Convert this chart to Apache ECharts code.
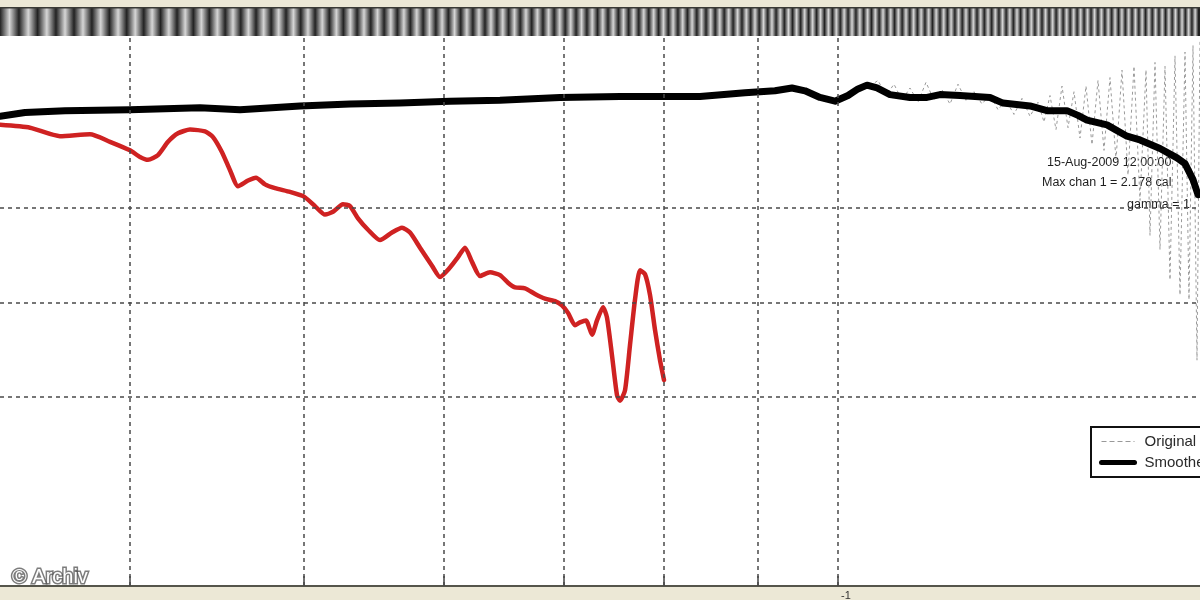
<!DOCTYPE html>
<html>
<head>
<meta charset="utf-8">
<title>Frequenzgang</title>
<script src="https://cdn.jsdelivr.net/npm/echarts@6/dist/echarts.min.js"></script>
<style>
html, body { margin: 0; padding: 0; background: #ece8d6; }
#chart { width: 1200px; height: 600px; }
</style>
</head>
<body>
<div id="chart"></div>
<script>
// x: frequency position, y: level (dB)
const smoothX = [0, 0.25, 0.65, 1.3, 2.0, 2.4, 3.0, 3.5, 4.0, 4.5, 5.0, 5.6, 6.2, 7.0, 7.45, 7.75, 7.92, 8.05, 8.2, 8.35, 8.48, 8.58, 8.67, 8.77, 8.9, 9.1, 9.27, 9.4, 9.6, 9.9, 10.03, 10.3, 10.47, 10.67, 10.78, 10.87, 11.07, 11.27, 11.4, 11.6, 11.77, 11.85, 11.93, 11.98];
const smoothY = [-0.3, 0.1, 0.3, 0.4, 0.6, 0.4, 0.8, 1.0, 1.1, 1.3, 1.4, 1.7, 1.8, 1.8, 2.2, 2.4, 2.7, 2.4, 1.7, 1.3, 1.9, 2.6, 3.0, 2.7, 2.0, 1.7, 1.7, 2.0, 1.9, 1.7, 1.1, 0.8, 0.3, 0.3, -0.2, -0.7, -1.2, -2.4, -2.8, -3.7, -4.7, -5.3, -7.0, -8.6];

const redX = [0, 0.3, 0.6, 0.9, 1.1, 1.3, 1.4, 1.48, 1.58, 1.68, 1.78, 1.9, 2.05, 2.13, 2.22, 2.3, 2.38, 2.48, 2.56, 2.65, 2.75, 2.9, 3.04, 3.15, 3.25, 3.33, 3.43, 3.5, 3.58, 3.68, 3.8, 3.92, 4.02, 4.1, 4.2, 4.32, 4.4, 4.5, 4.58, 4.65, 4.72, 4.8, 4.9, 5.0, 5.08, 5.15, 5.25, 5.35, 5.45, 5.56, 5.62, 5.68, 5.75, 5.8, 5.86, 5.92, 5.97, 6.03, 6.07, 6.12, 6.17, 6.2, 6.25, 6.3, 6.35, 6.4, 6.45, 6.5, 6.55, 6.6, 6.64];
const redY = [-1.2, -1.5, -2.4, -2.2, -3.0, -3.9, -4.6, -4.9, -4.4, -3.0, -2.1, -1.7, -1.9, -2.5, -4.1, -6.0, -7.7, -7.1, -6.8, -7.5, -7.9, -8.3, -8.8, -9.8, -10.7, -10.4, -9.6, -9.8, -11.1, -12.3, -13.4, -12.6, -12.1, -12.6, -14.2, -16.1, -17.3, -16.3, -15.2, -14.2, -15.7, -17.2, -16.8, -17.1, -17.9, -18.4, -18.5, -19.1, -19.6, -19.9, -20.3, -21.1, -22.4, -22.1, -21.9, -23.4, -21.9, -20.5, -21.6, -25.6, -29.8, -30.4, -29.3, -24.5, -19.7, -16.6, -17.0, -19.2, -22.9, -26.1, -28.2];

const origX = [8.7, 8.78, 8.86, 8.94, 9.02, 9.1, 9.18, 9.26, 9.34, 9.42, 9.5, 9.58, 9.66, 9.74, 9.82, 9.9, 9.98, 10.06, 10.14, 10.22, 10.3, 10.38, 10.44, 10.5, 10.56, 10.62, 10.68, 10.74, 10.8, 10.86, 10.92, 10.98, 11.04, 11.1, 11.16, 11.22, 11.28, 11.34, 11.4, 11.46, 11.5, 11.55, 11.6, 11.65, 11.7, 11.75, 11.8, 11.85, 11.89, 11.93, 11.97, 12.0];
const origY = [2.9, 3.5, 1.9, 3.1, 1.4, 2.7, 1.2, 3.3, 1.4, 2.5, 1.0, 3.1, 1.4, 2.3, 1.0, 2.0, 0.4, 1.4, -0.1, 1.6, -0.3, 1.2, -0.9, 1.9, -1.7, 2.9, -1.5, 2.3, -2.6, 2.9, -3.3, 3.5, -3.9, 3.8, -4.9, 4.6, -6.5, 5.0, -9.2, 4.6, -12.9, 5.4, -14.4, 5.0, -17.6, 6.1, -19.2, 6.5, -19.7, 7.2, -26.1, 7.8];

const gridX = [1.3, 3.04, 4.44, 5.64, 6.64, 7.58, 8.38];
const gridY = [-10, -20, -30];
const tickLabels = ['-1'];
const labelX = [8.38];

// test grating along the top: local stripe period in px
const stripeAt = [0, 400, 800, 1200];
const stripePeriod = [19, 13, 8, 6.5];

const zip = (xs, ys) => xs.map((x, i) => [x, ys[i]]);

function periodAt(x) {
    for (let i = 1; i < stripeAt.length; i++) {
        if (x <= stripeAt[i]) {
            const t = (x - stripeAt[i - 1]) / (stripeAt[i] - stripeAt[i - 1]);
            return stripePeriod[i - 1] + t * (stripePeriod[i] - stripePeriod[i - 1]);
        }
    }
    return stripePeriod[stripePeriod.length - 1];
}

const stripeStops = [];
let sx = 0;
let dark = true;
while (sx <= 1200) {
    stripeStops.push({ offset: sx / 1200, color: dark ? '#222' : '#d6d6d6' });
    sx += periodAt(sx) / 2;
    dark = !dark;
}

const chart = echarts.init(document.getElementById('chart'));

const textFont = 'Liberation Sans, Arial, sans-serif';

const options = {
    animation: false,
    backgroundColor: '#ece8d6',
    grid: {
        left: 0,
        right: 0,
        top: 36,
        bottom: 14,
        show: true,
        backgroundColor: '#fff',
        borderWidth: 0,
        outerBoundsMode: 'none'
    },
    xAxis: {
        type: 'value',
        min: 0,
        max: 12,
        axisLine: {
            show: true,
            onZero: false,
            lineStyle: { color: '#55554b', width: 2 }
        },
        axisTick: {
            show: true,
            inside: true,
            length: 10,
            customValues: gridX,
            lineStyle: { color: '#444', width: 1.5 }
        },
        axisLabel: {
            show: true,
            customValues: labelX,
            formatter: (v, i) => tickLabels[i] || tickLabels[0],
            align: 'left',
            margin: 4,
            padding: [0, 0, 0, 3],
            fontSize: 11,
            color: '#333',
            fontFamily: textFont
        },
        splitLine: { show: false }
    },
    yAxis: {
        type: 'value',
        min: -50,
        max: 8.2,
        show: false
    },
    legend: {
        data: [
            { name: 'Original data', lineStyle: { width: 1.2, type: [5, 3], color: '#999' } },
            { name: 'Smoothed data', lineStyle: { width: 5, color: '#000' } }
        ],
        orient: 'vertical',
        left: 1091,
        top: 427,
        padding: [7, 8, 7, 8],
        itemGap: 6,
        itemWidth: 33,
        itemHeight: 14,
        borderColor: '#111',
        borderWidth: 2,
        borderRadius: 0,
        backgroundColor: '#fff',
        selectedMode: false,
        itemStyle: { opacity: 0 },
        textStyle: {
            fontFamily: textFont,
            fontSize: 15,
            color: '#2a2a2a',
            padding: [0, 0, 0, 5]
        }
    },
    graphic: [
        {
            type: 'rect',
            shape: { x: 0, y: 8, width: 1200, height: 28 },
            style: {
                fill: { type: 'linear', x: 0, y: 0, x2: 1, y2: 0, colorStops: stripeStops }
            },
            silent: true
        },
        {
            type: 'rect',
            shape: { x: 0, y: 7, width: 1200, height: 1.5 },
            style: { fill: '#3a3a36' },
            silent: true
        },
        {
            type: 'text',
            left: 1047,
            top: 156,
            style: { text: '15-Aug-2009 12:00:00', fontSize: 12.5, fontFamily: textFont, fill: '#1e1e1e' },
            silent: true
        },
        {
            type: 'text',
            left: 1042,
            top: 176,
            style: { text: 'Max chan 1 = 2.178 cal', fontSize: 12.5, fontFamily: textFont, fill: '#1e1e1e' },
            silent: true
        },
        {
            type: 'text',
            left: 1127,
            top: 198,
            style: { text: 'gamma = 1', fontSize: 12.5, fontFamily: textFont, fill: '#1e1e1e' },
            silent: true
        },
        {
            type: 'text',
            x: 12,
            y: 567,
            z: 100,
            style: {
                text: '© Archiv',
                fontSize: 20,
                fontFamily: textFont,
                fill: '#ffffff',
                stroke: 'rgba(80,80,80,0.75)',
                lineWidth: 3,
                strokeFirst: true
            },
            silent: true
        }
    ],
    series: [
        {
            name: 'Original data',
            type: 'line',
            data: zip(origX, origY),
            symbol: 'none',
            z: 2,
            itemStyle: { color: '#9a9a9a' },
            lineStyle: { color: '#9a9a9a', width: 1, type: [3, 3] },
            markLine: {
                silent: true,
                symbol: 'none',
                label: { show: false },
                lineStyle: { color: '#4a4a4a', width: 1.5, type: [4, 4] },
                data: gridX.map(v => ({ xAxis: v })).concat(gridY.map(v => ({ yAxis: v })))
            }
        },
        {
            name: 'Messung',
            type: 'line',
            data: zip(redX, redY),
            symbol: 'none',
            smooth: 0.2,
            z: 3,
            itemStyle: { color: '#cf2222' },
            lineStyle: { color: '#cf2222', width: 4.5, cap: 'round', join: 'round' }
        },
        {
            name: 'Smoothed data',
            type: 'line',
            data: zip(smoothX, smoothY),
            symbol: 'none',
            z: 4,
            itemStyle: { color: '#000' },
            lineStyle: { color: '#000', width: 7, cap: 'round', join: 'round' }
        }
    ]
};

chart.setOption(options);
</script>
</body>
</html>
